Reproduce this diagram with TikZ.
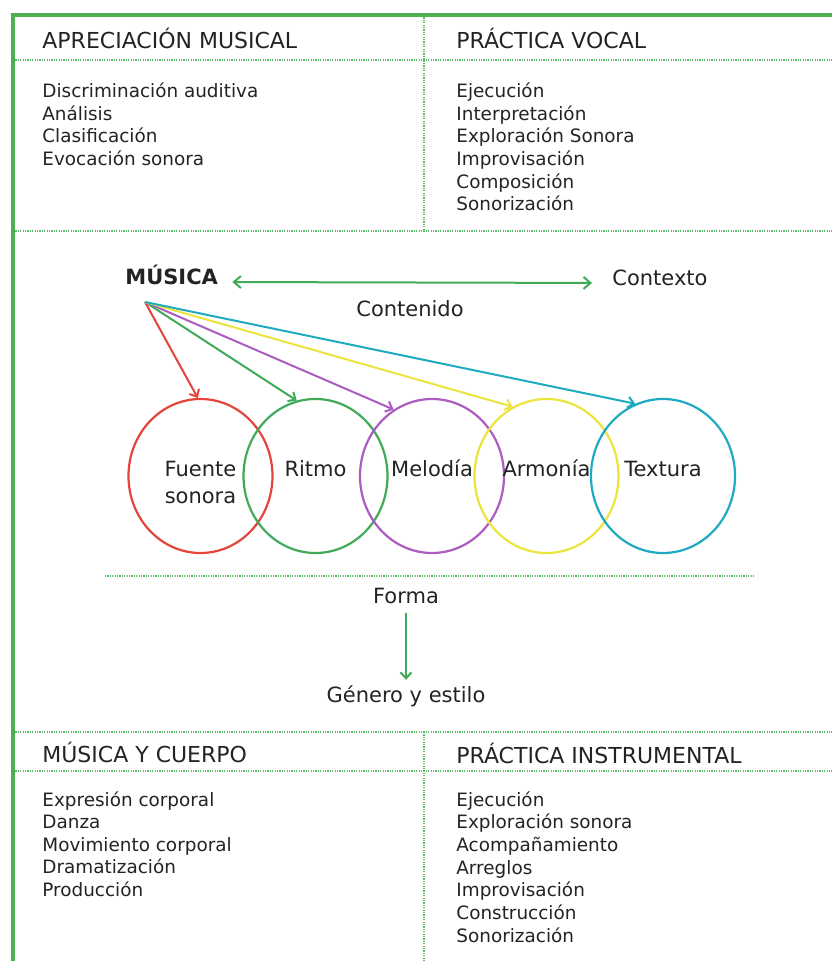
\documentclass[tikz,border=0pt]{standalone}
\usepackage{fontspec}
\setmainfont{DejaVu Sans}
\usetikzlibrary{shapes.geometric}
\usetikzlibrary{arrows.meta}

\definecolor{marco}{RGB}{76,176,80}
\definecolor{punteado}{RGB}{90,186,104}
\definecolor{texto}{RGB}{35,35,35}
\definecolor{rojo}{RGB}{228,68,58}
\definecolor{verde}{RGB}{64,170,88}
\definecolor{morado}{RGB}{170,92,192}
\definecolor{amarillo}{RGB}{236,228,60}
\definecolor{turquesa}{RGB}{30,170,192}

\tikzset{
    titulo/.style={anchor=base west, inner sep=0pt, text=texto, font=\fontsize{11}{13}\selectfont},
    item/.style={anchor=base west, inner sep=0pt, text=texto, font=\fontsize{9.2}{11}\selectfont},
    etiqueta/.style={anchor=base, inner sep=0pt, text=texto, font=\fontsize{10.5}{13.5}\selectfont},
    division/.style={punteado, line width=0.7pt, dash pattern=on 0.6pt off 0.6pt},
    flecha/.style={line width=1pt, -{Straight Barb[length=3pt,width=5.5pt]}},
    conjunto/.style={ellipse, draw, line width=1.1pt, minimum width=72pt, minimum height=77pt, inner sep=0pt}
}

\begin{document}
\begin{tikzpicture}[x=0.5pt, y=-0.5pt]
            \useasboundingbox (0,0) rectangle (832,961);
            \coordinate (NO) at (13,15);
            \coordinate (raiz) at (145,302);

            \draw[division] (13,60) -- (832,60);
            \draw[division] (13,231) -- (832,231);
            \draw[division] (424,15) -- (424,231);
            \draw[division] (105,576) -- (755,576);
            \draw[division] (13,732) -- (832,732);
            \draw[division] (13,771) -- (832,771);
            \draw[division] (424,732) -- (424,961);
            \draw[marco, line width=2pt] (13,961) -- (NO) -- (832,15);

            \node[titulo] (apreciacion) at (42,49) {APRECIACIÓN MUSICAL};
            \node[titulo] (vocal) at (456,49) {PRÁCTICA VOCAL};
            \node[titulo] (cuerpo) at (42,762) {MÚSICA Y CUERPO};
            \node[titulo] (instrumental) at (456,763) {PRÁCTICA INSTRUMENTAL};

            \foreach \t [count=\i] in {Discriminación auditiva, Análisis, Clasificación, Evocación sonora}
                \node[item] (apr\i) at (42,{97.5+22.7*(\i-1)}) {\t};
            \foreach \t [count=\i] in {Ejecución, Interpretación, Exploración Sonora, Improvisación, Composición, Sonorización}
                \node[item] (voc\i) at (456,{97.5+22.7*(\i-1)}) {\t};
            \foreach \t [count=\i] in {Expresión corporal, Danza, Movimiento corporal, Dramatización, Producción}
                \node[item] (cue\i) at (42,{806+22.5*(\i-1)}) {\t};
            \foreach \t [count=\i] in {Ejecución, Exploración sonora, Acompañamiento, Arreglos, Improvisación, Construcción, Sonorización}
                \node[item] (ins\i) at (456,{806+22.7*(\i-1)}) {\t};

            \node[etiqueta, anchor=base west, font=\bfseries\fontsize{10.5}{13}\selectfont] (musica) at (125,285) {MÚSICA};
            \node[etiqueta, anchor=base west] (contexto) at (612,286) {Contexto};
            \node[etiqueta] (contenido) at (410,317) {Contenido};
            \draw[verde, line width=1pt, {Straight Barb[length=3.5pt,width=6pt]}-{Straight Barb[length=3.5pt,width=6pt]}, shorten <=7pt, shorten >=10pt]
                ([yshift=1.5pt]musica.base east) -- ([yshift=1.5pt]contexto.base west);

            \foreach \n/\c/\x/\a in {fuente/rojo/200.5/92, ritmo/verde/315.5/104, melodia/morado/432/120, armonia/amarillo/546.5/116, textura/turquesa/663/111} {
                \node[conjunto, draw=\c] (\n) at (\x,476) {};
                \draw[flecha, \c] (raiz) -- (\n.\a);
            }
            \node[etiqueta, align=center] (t-fuente) at ([yshift=-13.5pt]fuente.center) {Fuente\\sonora};
            \node[etiqueta] (t-ritmo) at (ritmo.center) {Ritmo};
            \node[etiqueta] (t-melodia) at (melodia.center) {Melodía};
            \node[etiqueta] (t-armonia) at (armonia.center) {Armonía};
            \node[etiqueta] (t-textura) at (textura.center) {Textura};

            \node[etiqueta] (forma) at (406,603) {Forma};
            \node[etiqueta] (genero) at (406,702) {Género y estilo};
            \draw[flecha, verde, shorten <=4.5pt, shorten >=2.5pt] (forma.south) -- (genero.north);
\end{tikzpicture}
\end{document}
